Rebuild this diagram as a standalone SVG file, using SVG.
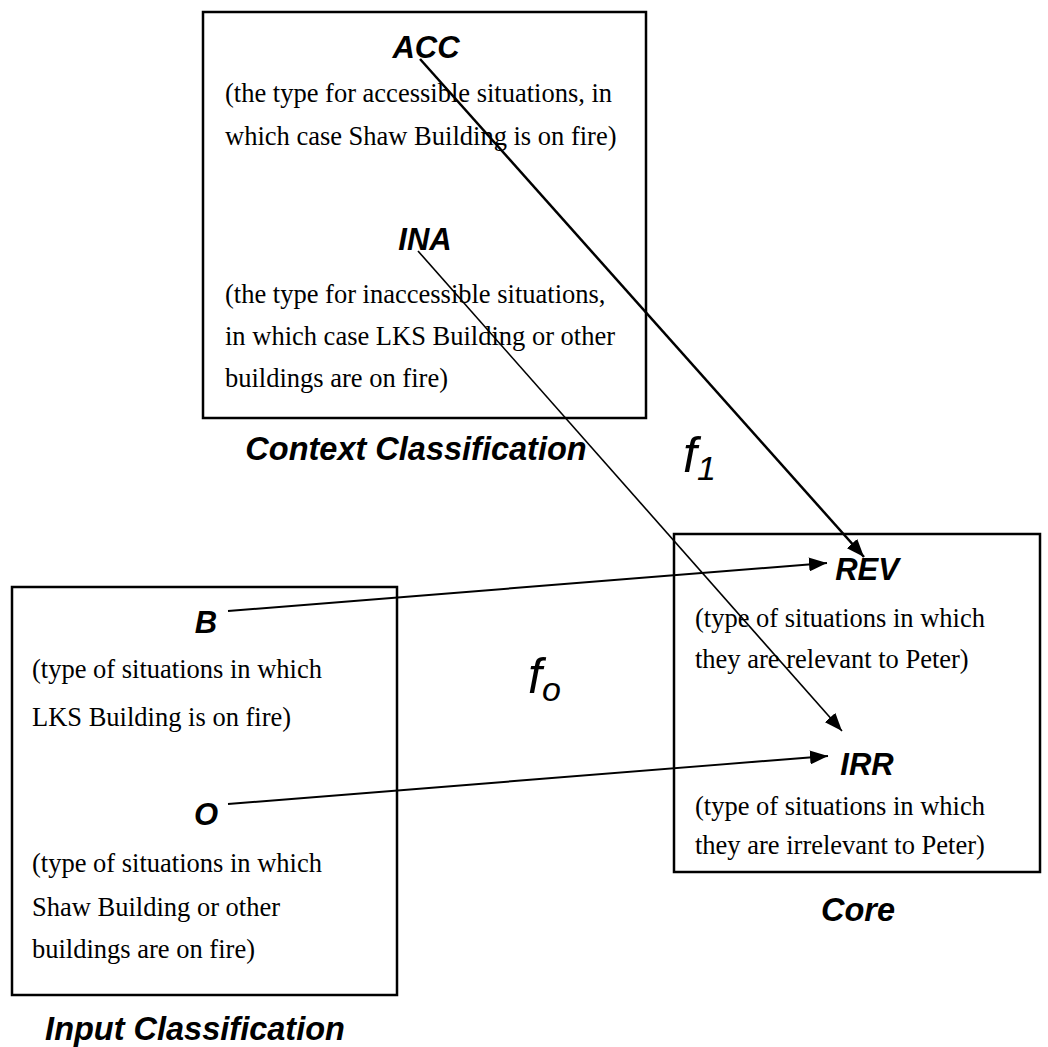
<svg xmlns="http://www.w3.org/2000/svg" width="1048" height="1047" viewBox="0 0 1048 1047">
<defs>
<marker id="ah2" viewBox="0 0 10 10" refX="10" refY="5" markerWidth="18" markerHeight="14" markerUnits="userSpaceOnUse" orient="auto" preserveAspectRatio="none">
<path d="M0,0 L10,5 L0,10 z" fill="#000"/>
</marker>
</defs>
<style>
.box{fill:none;stroke:#000;stroke-width:2.5}
.t{font-family:"Liberation Serif","Times New Roman",serif;font-size:26.5px;fill:#000}
.lbl{font-family:"Liberation Sans",Arial,sans-serif;font-size:31px;font-weight:bold;font-style:italic;text-anchor:middle;fill:#000}
.cap{font-family:"Liberation Sans",Arial,sans-serif;font-size:32.5px;font-weight:bold;font-style:italic;text-anchor:middle;fill:#000}
.fn{font-family:"Liberation Sans",Arial,sans-serif;font-style:italic;fill:#000}
.c{fill:none;stroke:#000}
</style>
<rect width="1048" height="1047" fill="#fff"/>
<g id="context">
<rect class="box" x="203" y="12" width="443" height="406"/>
<text class="lbl" x="426" y="58">ACC</text>
<text class="t" x="225" y="102">(the type for accessible situations, in</text>
<text class="t" x="225" y="145">which case Shaw Building is on fire)</text>
<text class="lbl" x="425" y="250">INA</text>
<text class="t" x="225" y="303">(the type for inaccessible situations,</text>
<text class="t" x="225" y="345">in which case LKS Building or other</text>
<text class="t" x="225" y="387">buildings are on fire)</text>
<text class="cap" x="416" y="460">Context Classification</text>
</g>
<g id="core">
<rect class="box" x="674" y="534" width="366" height="338"/>
<text class="lbl" x="867" y="580">REV</text>
<text class="t" x="695" y="627">(type of situations in which</text>
<text class="t" x="695" y="668">they are relevant to Peter)</text>
<text class="lbl" x="867" y="775">IRR</text>
<text class="t" x="695" y="815">(type of situations in which</text>
<text class="t" x="695" y="854">they are irrelevant to Peter)</text>
<text class="cap" x="858" y="921">Core</text>
</g>
<g id="input">
<rect class="box" x="12" y="587" width="385" height="408"/>
<text class="lbl" x="206" y="633">B</text>
<text class="t" x="32" y="678">(type of situations in which</text>
<text class="t" x="32" y="726">LKS Building is on fire)</text>
<text class="lbl" x="206" y="825">O</text>
<text class="t" x="32" y="872">(type of situations in which</text>
<text class="t" x="32" y="916">Shaw Building or other</text>
<text class="t" x="32" y="958">buildings are on fire)</text>
<text class="cap" x="195" y="1040">Input Classification</text>
</g>
<g id="f1">
<text class="fn" x="683" y="472" font-size="50">f<tspan font-size="34" dy="8">1</tspan></text>
</g>
<g id="fo">
<text class="fn" x="528" y="693" font-size="50">f<tspan font-size="34" dy="8">o</tspan></text>
</g>
<g id="connectors">
<line class="c" stroke-width="2.5" x1="420" y1="59" x2="864" y2="557" marker-end="url(#ah2)"/>
<line class="c" stroke-width="1.6" x1="418" y1="251" x2="842" y2="731" marker-end="url(#ah2)"/>
<line class="c" stroke-width="2" x1="228" y1="611" x2="827" y2="563" marker-end="url(#ah2)"/>
<line class="c" stroke-width="2" x1="228" y1="804" x2="828" y2="756" marker-end="url(#ah2)"/>
</g>
</svg>
